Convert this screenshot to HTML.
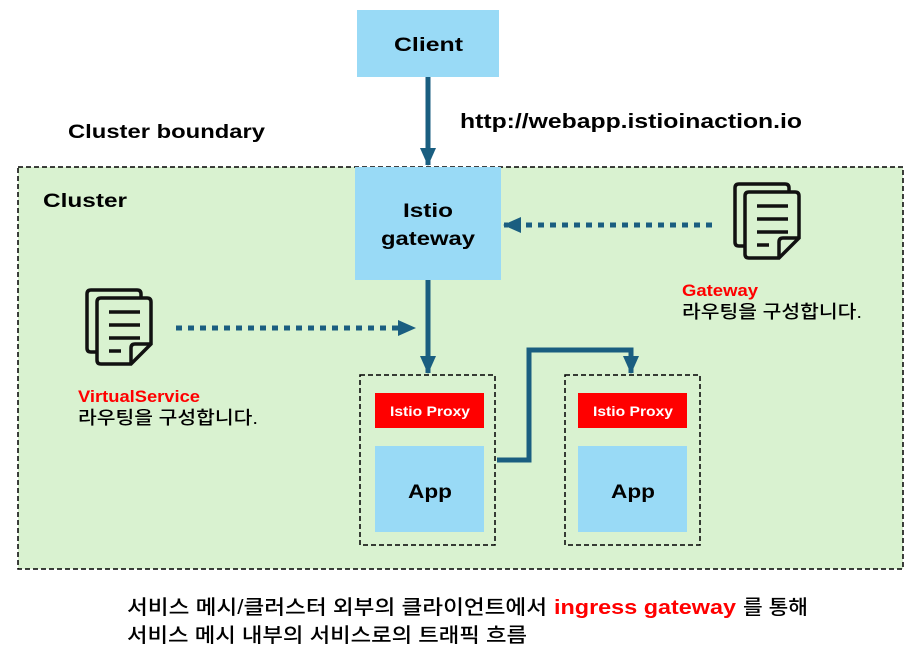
<!DOCTYPE html>
<html><head><meta charset="utf-8"><style>
body{margin:0;background:#fff;}
svg{display:block;}
text{font-family:"Liberation Sans","Noto Sans CJK KR",sans-serif;}
</style></head><body>
<svg width="914" height="662" xmlns="http://www.w3.org/2000/svg">
<defs>
<marker id="ah2" markerWidth="18" markerHeight="18" refX="17" refY="9" orient="auto" markerUnits="userSpaceOnUse" viewBox="0 0 18 18"><path d="M0,1 L18,9 L0,17z" fill="#1a5e80"/></marker>
<g id="doc">
<path d="M2,60 L2,6 Q2,2 6,2 L52,2 Q56,2 56,6 L56,10" fill="none" stroke="#111" stroke-width="3.5"/>
<path d="M2,60 Q2,64 6,64 L12,64" fill="none" stroke="#111" stroke-width="3.5"/>
<path d="M12,14 Q12,10 16,10 L62,10 Q66,10 66,14 L66,56 L46,76 L16,76 Q12,76 12,72 Z" fill="none" stroke="#111" stroke-width="3.5"/>
<path d="M66,56 L50,56 Q46,56 46,60 L46,76" fill="none" stroke="#111" stroke-width="3.5"/>
<path d="M24,24 L55,24 M24,37 L55,37 M24,50 L55,50 M24,63 L36,63" stroke="#111" stroke-width="3.5"/>
</g>
</defs>
<rect x="18" y="167" width="885" height="402" fill="#d9f2d0" stroke="#000" stroke-width="1.5" stroke-dasharray="5,3"/>
<rect x="357" y="10" width="142" height="67" fill="#99daf6"/>
<text x="394" y="51" font-size="19" font-weight="bold" textLength="69" lengthAdjust="spacingAndGlyphs">Client</text>
<line x1="428" y1="77" x2="428" y2="165" stroke="#1a5e80" stroke-width="5" marker-end="url(#ah2)"/>
<text x="460" y="128" font-size="20" font-weight="bold" textLength="342" lengthAdjust="spacingAndGlyphs">http://webapp.istioinaction.io</text>
<text x="68" y="138" font-size="19" font-weight="bold" textLength="197" lengthAdjust="spacingAndGlyphs">Cluster boundary</text>
<text x="43" y="207" font-size="19" font-weight="bold" textLength="84" lengthAdjust="spacingAndGlyphs">Cluster</text>
<rect x="355" y="167" width="146" height="113" fill="#99daf6"/>
<text x="403" y="217" font-size="19" font-weight="bold" textLength="50" lengthAdjust="spacingAndGlyphs">Istio</text>
<text x="381" y="245" font-size="19" font-weight="bold" textLength="94" lengthAdjust="spacingAndGlyphs">gateway</text>
<line x1="428" y1="280" x2="428" y2="373" stroke="#1a5e80" stroke-width="5" marker-end="url(#ah2)"/>
<line x1="712" y1="225" x2="504" y2="225" stroke="#1a5e80" stroke-width="5" stroke-dasharray="6,6" marker-end="url(#ah2)"/>
<line x1="176" y1="328" x2="415" y2="328" stroke="#1a5e80" stroke-width="5" stroke-dasharray="6,6" marker-end="url(#ah2)"/>
<use href="#doc" x="733" y="182"/>
<use href="#doc" x="85" y="288"/>
<text x="682" y="296" font-size="17" font-weight="bold" fill="#f00" textLength="76" lengthAdjust="spacingAndGlyphs">Gateway</text>
<text x="682" y="318" font-size="18" font-weight="500" textLength="180" lengthAdjust="spacingAndGlyphs">라우팅을 구성합니다.</text>
<text x="78" y="402" font-size="17" font-weight="bold" fill="#f00" textLength="122" lengthAdjust="spacingAndGlyphs">VirtualService</text>
<text x="78" y="424" font-size="18" font-weight="500" textLength="180" lengthAdjust="spacingAndGlyphs">라우팅을 구성합니다.</text>
<rect x="360" y="375" width="135" height="170" fill="none" stroke="#000" stroke-width="1.5" stroke-dasharray="5,3"/>
<rect x="565" y="375" width="135" height="170" fill="none" stroke="#000" stroke-width="1.5" stroke-dasharray="5,3"/>
<rect x="375" y="393" width="109" height="35" fill="#f00"/>
<rect x="578" y="393" width="109" height="35" fill="#f00"/>
<text x="390" y="416" font-size="14" font-weight="bold" fill="#fff" textLength="80" lengthAdjust="spacingAndGlyphs">Istio Proxy</text>
<text x="593" y="416" font-size="14" font-weight="bold" fill="#fff" textLength="80" lengthAdjust="spacingAndGlyphs">Istio Proxy</text>
<rect x="375" y="446" width="109" height="86" fill="#99daf6"/>
<rect x="578" y="446" width="109" height="86" fill="#99daf6"/>
<text x="408" y="498" font-size="19" font-weight="bold" textLength="44" lengthAdjust="spacingAndGlyphs">App</text>
<text x="611" y="498" font-size="19" font-weight="bold" textLength="44" lengthAdjust="spacingAndGlyphs">App</text>
<polyline points="497,460 529,460 529,350 631,350 631,373" fill="none" stroke="#1a5e80" stroke-width="5" marker-end="url(#ah2)"/>
<text x="127" y="614" font-size="20" font-weight="500" textLength="420" lengthAdjust="spacingAndGlyphs">서비스 메시/클러스터 외부의 클라이언트에서</text>
<text x="554" y="614" font-size="20" font-weight="bold" fill="#f00" textLength="182" lengthAdjust="spacingAndGlyphs">ingress gateway</text>
<text x="743" y="614" font-size="20" font-weight="500" textLength="65" lengthAdjust="spacingAndGlyphs">를 통해</text>
<text x="127" y="642" font-size="20" font-weight="500" textLength="400" lengthAdjust="spacingAndGlyphs">서비스 메시 내부의 서비스로의 트래픽 흐름</text>
</svg>
</body></html>
